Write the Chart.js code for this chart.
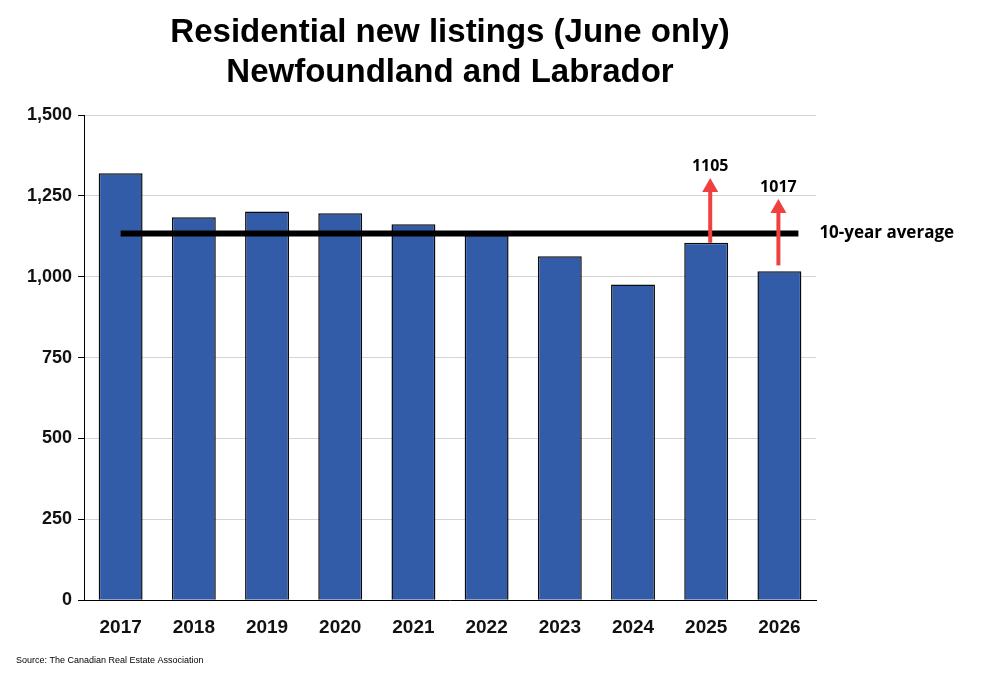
<!DOCTYPE html>
<html><head><meta charset="utf-8">
<script src="https://cdn.jsdelivr.net/npm/chart.js@4"></script>
<style>body{margin:0;background:#fff}#w{width:994px;height:679px;position:relative}</style>
</head><body><div id="w"><canvas id="c" width="994" height="679"></canvas></div>
<script>
const categories=["2017","2018","2019","2020","2021","2022","2023","2024","2025","2026"];
const values=[1320,1184,1202,1196,1162,1128,1063,976,1105,1017];
const yTicks=[0,250,500,750,1000,1250,1500];
const averageValue=1134;
const averageLabel="10-year average";
const titleLines=["Residential new listings (June only)","Newfoundland and Labrador"];
const arrowNotes=[{index:8,from:1105,to:1305,label:"1105"},{index:9,from:1035,to:1240,label:"1017"}];
const sourceText="Source: The Canadian Real Estate Association";

const overlay={id:'overlay',afterDatasetsDraw(ch){
 const c=ch.ctx,x=ch.scales.x,y=ch.scales.y;
 const x0=x.getPixelForValue(0),x9=x.getPixelForValue(9);
 const ya=y.getPixelForValue(averageValue);
 c.save();
 c.strokeStyle='#000';c.lineWidth=6;
 c.beginPath();c.moveTo(x0,ya);c.lineTo(x9+19,ya);c.stroke();
 c.fillStyle='#000';c.font='bold 17px "Open Sans"';c.textBaseline='middle';c.textAlign='left';
 c.fillText(averageLabel,x9+40,ya);
 arrowNotes.forEach(a=>{
  const px=x.getPixelForValue(a.index)+(a.index===8?4:-1);
  const y1=y.getPixelForValue(a.from),y2=y.getPixelForValue(a.to);
  c.strokeStyle='#f04040';c.fillStyle='#f04040';c.lineWidth=4;
  c.beginPath();c.moveTo(px,y1);c.lineTo(px,y2+10);c.stroke();
  c.beginPath();c.moveTo(px-8,y2+14);c.lineTo(px,y2);c.lineTo(px+8,y2+14);c.closePath();c.fill();
  c.fillStyle='#000';c.font='bold 16px "Open Sans"';c.textAlign='center';c.textBaseline='bottom';
  c.fillText(a.label,px,y2-4);
 });
 c.font='bold 33px "Liberation Sans"';c.textAlign='center';c.textBaseline='middle';
 c.fillText(titleLines[0],450,33);c.fillText(titleLines[1],450,73);
 c.font='9px "Liberation Sans"';c.textAlign='left';c.fillText(sourceText,16,661);
 c.restore();
}};
new Chart(document.getElementById('c'),{
 type:'bar',
 data:{labels:categories,datasets:[{data:values,backgroundColor:'#335ca8',borderColor:'#0a0a0a',borderWidth:1.5,barPercentage:0.6,categoryPercentage:1}]},
 options:{responsive:false,animation:false,
  layout:{padding:{left:21,right:178,top:115,bottom:32}},
  plugins:{legend:{display:false},tooltip:{enabled:false},title:{display:false}},
  scales:{
   x:{grid:{display:false},border:{color:'#000',width:1},ticks:{color:'#111',font:{family:'Liberation Sans',size:19,weight:'bold'},padding:8}},
   y:{min:0,max:1500,afterBuildTicks(s){s.ticks=yTicks.map(v=>({value:v}))},
    grid:{color:'#d4d4d4',drawTicks:true,tickLength:6,tickColor:'#000'},border:{color:'#000',width:1},
    ticks:{color:'#111',font:{family:'Liberation Sans',size:18,weight:'bold'},callback:v=>v.toLocaleString('en-US'),padding:6}}
  }},
 plugins:[overlay]
});
</script></body></html>
